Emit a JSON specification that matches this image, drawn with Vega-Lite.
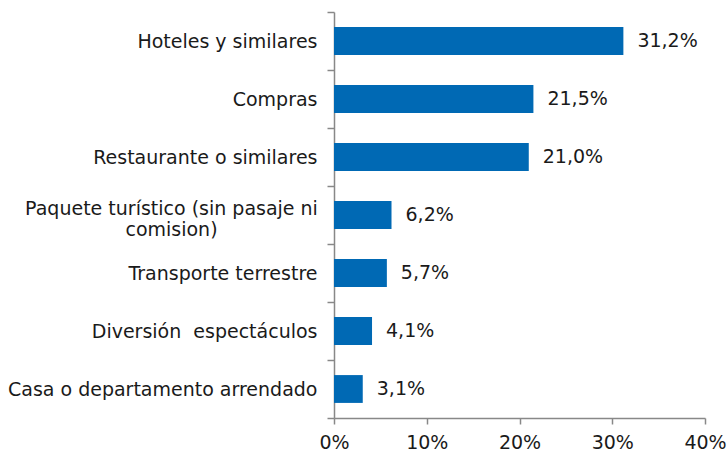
{
  "$schema": "https://vega.github.io/schema/vega-lite/v6.json",
  "autosize": "none",
  "width": 371,
  "height": 406,
  "padding": {"left": 334, "top": 12, "right": 23, "bottom": 33},
  "background": "white",
  "config": {
    "locale": {"number": {"decimal": ",", "thousands": ".", "grouping": [3], "currency": ["", " €"]}},
    "view": {"stroke": null},
    "font": "DejaVu Sans"
  },
  "data": {
    "values": [
      {"categoria": "Hoteles y similares", "valor": 0.312},
      {"categoria": "Compras", "valor": 0.215},
      {"categoria": "Restaurante o similares", "valor": 0.210},
      {"categoria": "Paquete turístico (sin pasaje ni comision)", "valor": 0.062},
      {"categoria": "Transporte terrestre", "valor": 0.057},
      {"categoria": "Diversión  espectáculos", "valor": 0.041},
      {"categoria": "Casa o departamento arrendado", "valor": 0.031}
    ]
  },
  "encoding": {
    "y": {
      "field": "categoria",
      "type": "nominal",
      "sort": null,
      "scale": {"paddingInner": 0, "paddingOuter": 0},
      "axis": {
        "title": null,
        "tickBand": "extent",
        "domainColor": "#888888",
        "domainWidth": 1.5,
        "tickColor": "#888888",
        "tickWidth": 1.5,
        "tickSize": 7,
        "labelPadding": {"condition": {"test": "datum.value == 'Paquete turístico (sin pasaje ni comision)'", "value": 156}, "value": 10},
        "labelAlign": {"condition": {"test": "datum.value == 'Paquete turístico (sin pasaje ni comision)'", "value": "center"}, "value": "right"},
        "labelOffset": {"condition": {"test": "datum.value == 'Paquete turístico (sin pasaje ni comision)'", "value": -7}, "value": 0},
        "labelFont": "DejaVu Sans",
        "labelFontSize": 19,
        "labelColor": "#1a1a1a",
        "labelLimit": 400,
        "labelLineHeight": 21,
        "labelExpr": "datum.label == 'Paquete turístico (sin pasaje ni comision)' ? ['Paquete turístico (sin pasaje ni', 'comision)'] : replace(datum.label, '  ', ' \\u00a0')"
      }
    },
    "x": {
      "field": "valor",
      "type": "quantitative",
      "scale": {"domain": [0, 0.4], "nice": false},
      "axis": {
        "title": null,
        "format": ".0%",
        "values": [0, 0.1, 0.2, 0.3, 0.4],
        "grid": false,
        "domainColor": "#888888",
        "domainWidth": 1.5,
        "tickColor": "#888888",
        "tickWidth": 1.5,
        "tickSize": 6,
        "labelPadding": 9,
        "labelFont": "DejaVu Sans",
        "labelFontSize": 19,
        "labelColor": "#1a1a1a",
        "labelFlush": false
      }
    }
  },
  "layer": [
    {"mark": {"type": "bar", "color": "#0069b4", "height": {"band": 0.48}}},
    {
      "mark": {"type": "text", "align": "left", "baseline": "middle", "dx": 14, "font": "DejaVu Sans", "fontSize": 19, "color": "#1a1a1a"},
      "encoding": {"text": {"field": "valor", "type": "quantitative", "format": ".1%"}}
    }
  ]
}
